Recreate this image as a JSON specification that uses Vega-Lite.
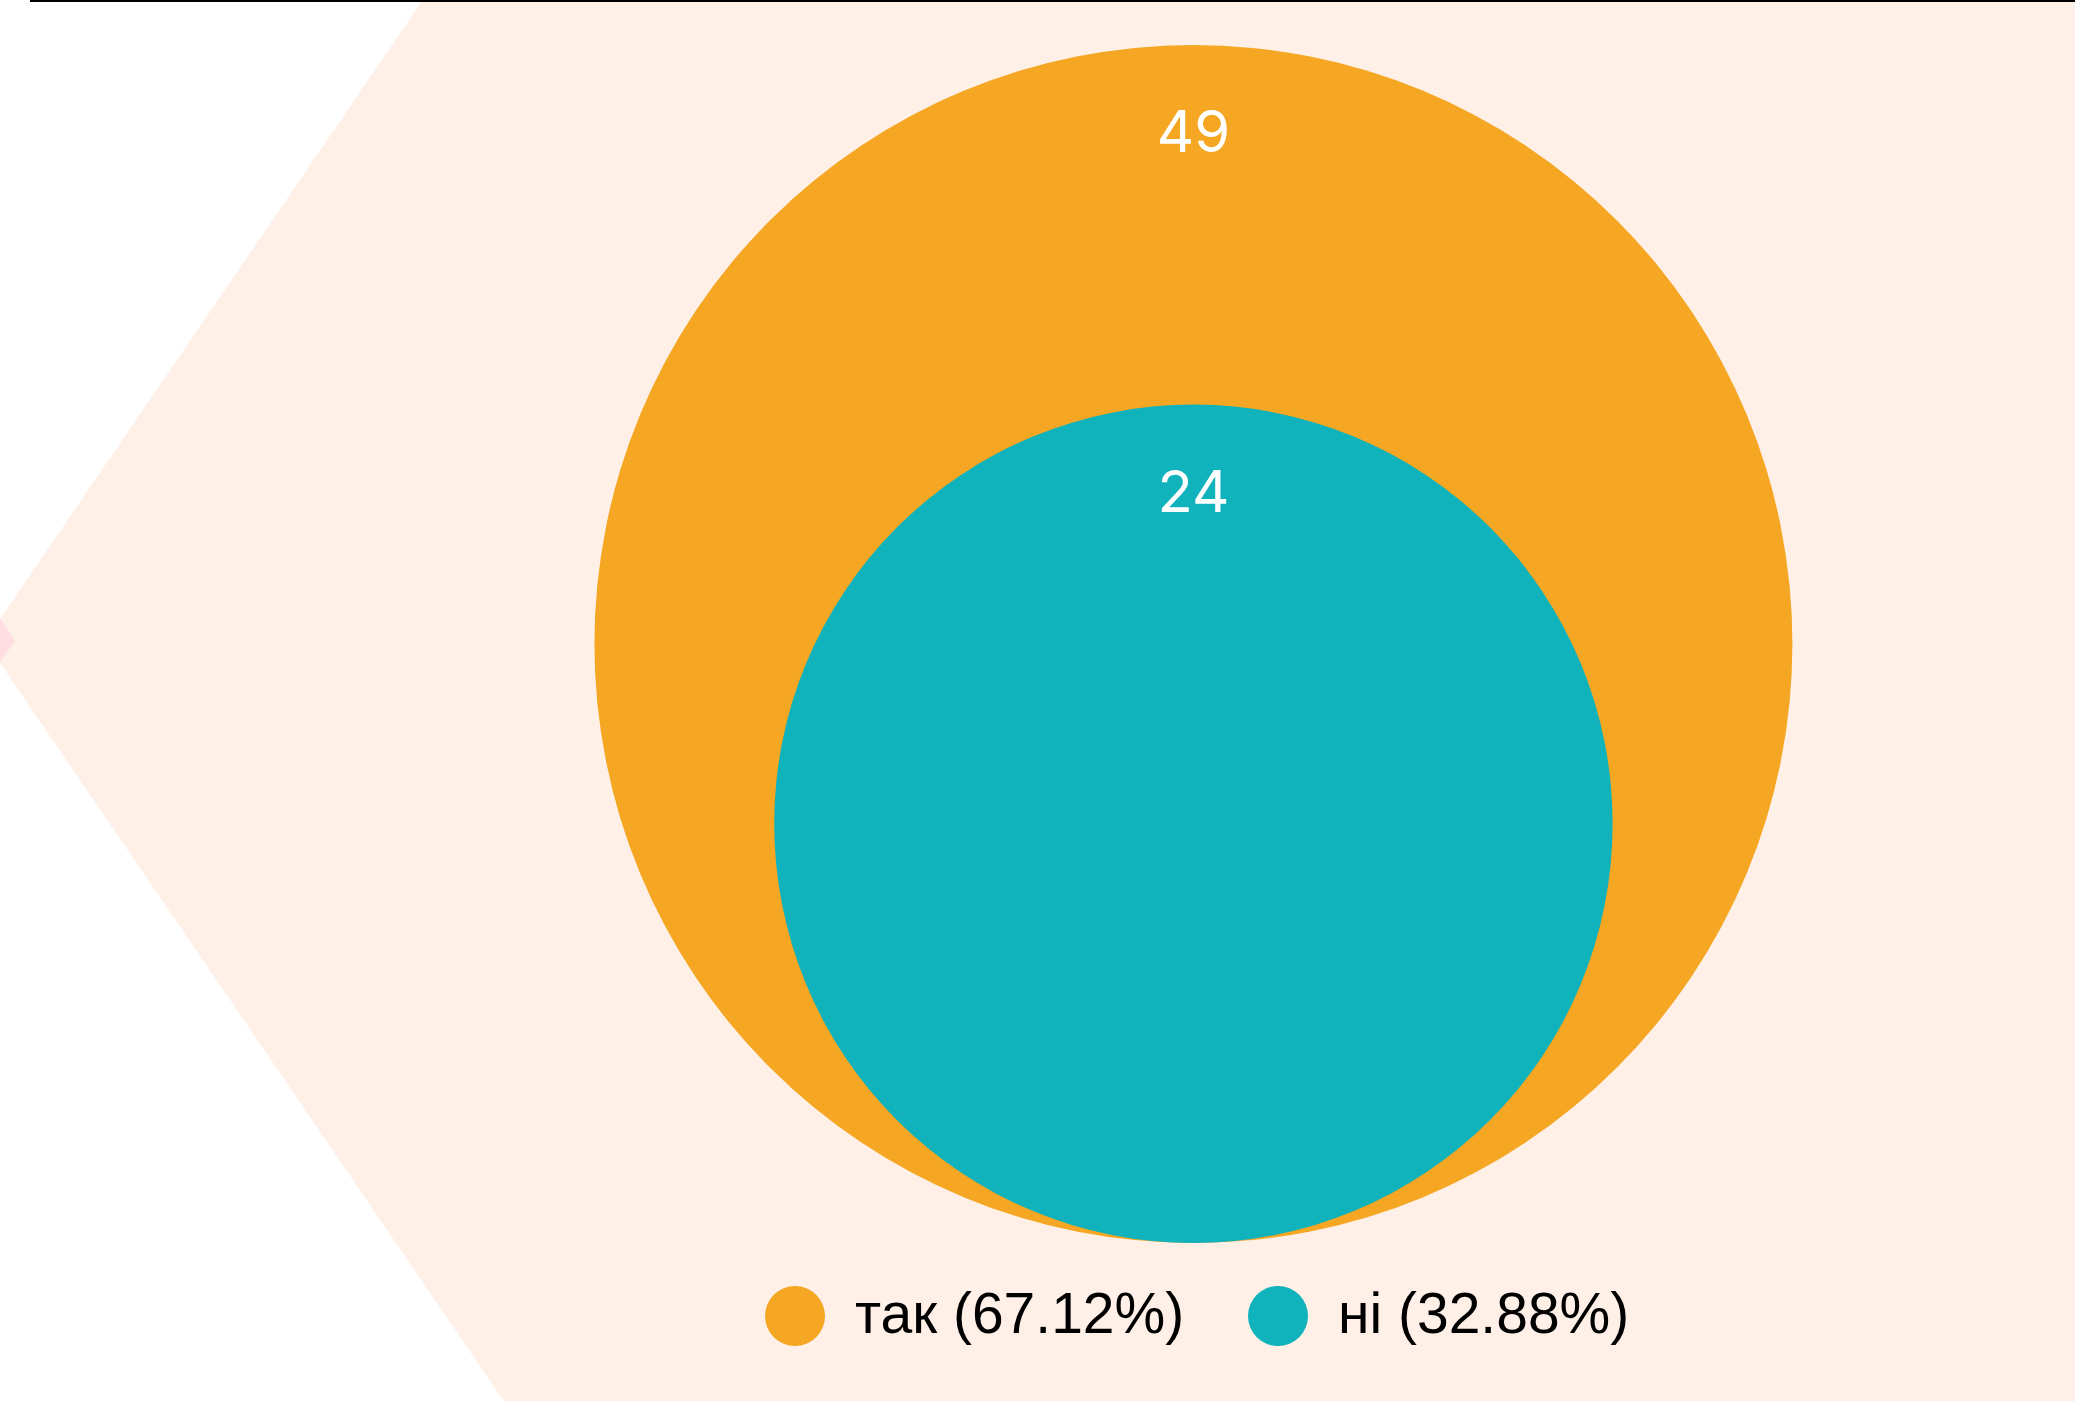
{
  "$schema": "https://vega.github.io/schema/vega-lite/v6.json",
  "width": 2076,
  "height": 1401,
  "autosize": {"type": "fit", "contains": "padding"},
  "padding": 0,
  "background": "white",
  "config": {"view": {"stroke": null}, "font": "Inter"},
  "datasets": {
    "bg": [
      {"px": 423, "py": 0},
      {"px": -15, "py": 641},
      {"px": 504, "py": 1401}
    ],
    "pink": [
      {"px": 0, "py": 618},
      {"px": 15, "py": 641},
      {"px": 0, "py": 662}
    ],
    "main": [
      {"answer": "так", "value": 49, "legend": "так (67.12%)"},
      {"answer": "ні", "value": 24, "legend": "ні (32.88%)"}
    ]
  },
  "layer": [
    {
      "data": {"name": "bg"},
      "mark": {"type": "area", "orient": "horizontal", "color": "#FEF0E7", "clip": true},
      "encoding": {
        "y": {"field": "py", "type": "quantitative", "scale": {"domain": [0, 1401], "reverse": true, "nice": false, "zero": false}, "axis": null},
        "x": {"field": "px", "type": "quantitative", "scale": {"domain": [0, 2076], "nice": false, "zero": false}, "axis": null},
        "x2": {"datum": 2076}
      }
    },
    {
      "data": {"name": "pink"},
      "mark": {"type": "area", "orient": "horizontal", "color": "#FFDDE1", "clip": true},
      "encoding": {
        "y": {"field": "py", "type": "quantitative", "scale": {"domain": [0, 1401], "reverse": true, "nice": false, "zero": false}, "axis": null},
        "x": {"field": "px", "type": "quantitative", "axis": null},
        "x2": {"datum": 0}
      }
    },
    {
      "data": {"values": [{}]},
      "mark": {"type": "rule", "color": "#000000", "strokeWidth": 2},
      "encoding": {
        "y": {"datum": 1, "type": "quantitative", "scale": {"domain": [0, 1401], "reverse": true, "nice": false, "zero": false}, "axis": null},
        "x": {"datum": 30, "type": "quantitative", "axis": null},
        "x2": {"datum": 2076}
      }
    },
    {
      "data": {"name": "main"},
      "mark": {"type": "point", "shape": "circle", "filled": true, "opacity": 1, "strokeWidth": 0},
      "encoding": {
        "x": {"datum": 1194, "type": "quantitative", "axis": null},
        "y": {"field": "value", "type": "quantitative", "scale": {"type": "sqrt", "domain": [0, 49], "range": [1243, 644], "nice": false, "zero": false}, "axis": null},
        "size": {"field": "value", "type": "quantitative", "scale": {"type": "linear", "domain": [0, 49], "range": [0, 1435204], "zero": true}, "legend": null},
        "color": {
          "field": "legend", "type": "nominal",
          "scale": {"domain": ["так (67.12%)", "ні (32.88%)"], "range": ["#F5A623", "#10B2BB"]},
          "legend": {
            "title": null,
            "orient": "none",
            "legendX": 765,
            "legendY": 1286,
            "direction": "horizontal",
            "symbolType": "circle",
            "symbolSize": 3600,
            "symbolStrokeWidth": 0,
            "labelFont": "Liberation Sans",
            "labelFontSize": 57,
            "labelColor": "#000000",
            "labelLimit": 1000,
            "labelOffset": 30,
            "columnPadding": 63,
            "padding": 0
          }
        }
      }
    },
    {
      "data": {"name": "main"},
      "mark": {"type": "text", "color": "#FFFFFF", "font": "Inter", "fontWeight": 400, "fontSize": 58, "align": "center", "baseline": "alphabetic", "dy": 108},
      "encoding": {
        "x": {"datum": 1194, "type": "quantitative", "axis": null},
        "y": {"field": "value", "type": "quantitative", "scale": {"type": "sqrt", "domain": [0, 49], "range": [1243, 44], "nice": false, "zero": false}, "axis": null},
        "text": {"field": "value", "type": "quantitative"}
      }
    }
  ],
  "resolve": {"scale": {"y": "independent"}}
}
